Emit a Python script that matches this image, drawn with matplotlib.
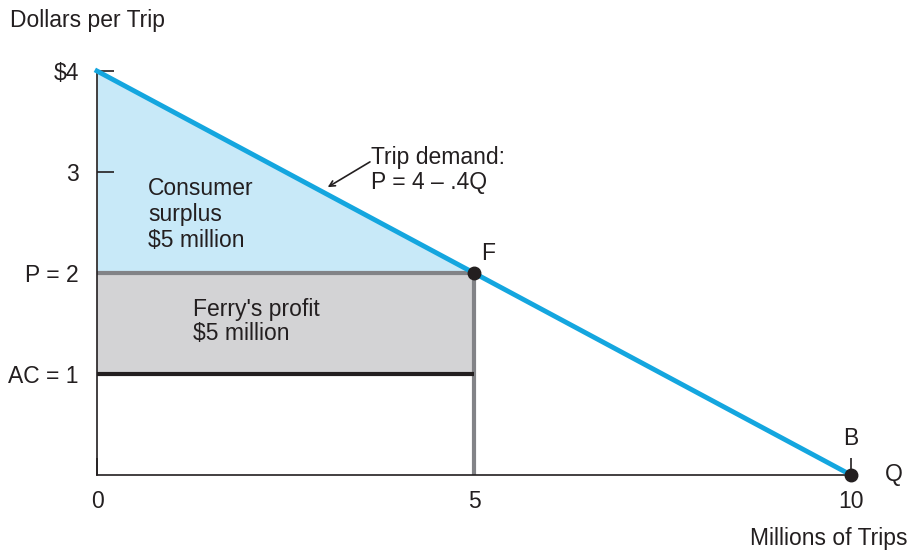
import matplotlib
matplotlib.use("Agg")
import matplotlib.pyplot as plt

plt.rcParams['font.family'] = ['Liberation Sans', 'DejaVu Sans']

# demand curve P = 4 - .4Q
demand_q = [0, 10]
demand_p = [4, 0]
price = 2
avg_cost = 1
q_ferry = 5
q_max = 10

yticks = [4, 3, 2, 1]
ytick_labels = ["$4", "3", "P = 2", "AC = 1"]
xticks = [0, 5, 10]
xtick_labels = ["0", "5", "10"]

blue = "#14a6df"
light_blue = "#c8e9f8"
gray_fill = "#d3d3d5"
gray_line = "#828387"
ink = "#231f20"

fig = plt.figure(figsize=(9.18, 5.53), dpi=100)
ax = fig.add_axes([97 / 918, 78 / 553, 754 / 918, 404 / 553])
ax.set_xlim(0, 10)
ax.set_ylim(0, 4)

# shaded areas
ax.fill_between([0, q_ferry], [4, price], [price, price], color=light_blue, lw=0, zorder=1)
ax.fill_between([0, q_ferry], [price, price], [avg_cost, avg_cost], color=gray_fill, lw=0, zorder=1)

ax.plot([0, q_ferry], [price, price], color=gray_line, lw=3, zorder=2, solid_capstyle='butt')
ax.plot([q_ferry, q_ferry], [0, price], color=gray_line, lw=3, zorder=2, solid_capstyle='butt')
ax.plot([0, q_ferry], [avg_cost, avg_cost], color=ink, lw=3, zorder=2, solid_capstyle='butt')

ax.plot(demand_q, demand_p, color=blue, lw=3.5, zorder=3, clip_on=False)
ax.plot([q_ferry, q_max], [price, 0], 'o', color=ink, ms=9, zorder=4, clip_on=False)

for s in ['top', 'right']:
    ax.spines[s].set_visible(False)
for s in ['left', 'bottom']:
    ax.spines[s].set_linewidth(1.2)
    ax.spines[s].set_color(ink)
    ax.spines[s].set_zorder(2.5)

ax.set_yticks(yticks)
ax.set_yticklabels(ytick_labels)
ax.set_xticks(xticks)
ax.set_xticklabels(xtick_labels)
fs = 16.5
ax.tick_params(direction='in', length=12, width=1.2, labelsize=fs, color=ink, labelcolor=ink)
ax.tick_params(axis='y', pad=13)
ax.tick_params(axis='x', pad=11)

fig.text(10 / 918, 1 - 20 / 553, "Dollars per Trip", fontsize=fs, va='center', color=ink)
fig.text(907 / 918, 1 - 538 / 553, "Millions of Trips", fontsize=fs, va='center', ha='right', color=ink)
ax.text(10.45, 0, "Q", fontsize=fs, va='center', ha='left', color=ink)
ax.text(q_ferry + 0.1, price + 0.08, "F", fontsize=fs, va='bottom', ha='left', color=ink)
ax.text(q_max, 0.25, "B", fontsize=fs, va='bottom', ha='center', color=ink)

ax.text(0.68, 2.58, "Consumer\nsurplus\n$5 million", fontsize=fs, va='center', ha='left',
        color=ink, linespacing=1.15)
ax.text(1.27, 1.52, "Ferry's profit\n$5 million", fontsize=fs, va='center', ha='left',
        color=ink, linespacing=1.05)
ax.text(3.63, 3.02, "Trip demand:\nP = 4 \u2013 .4Q", fontsize=fs, va='center', ha='left',
        color=ink, linespacing=1.12)
ax.annotate("", xy=(3.06, 2.85), xytext=(3.62, 3.1),
            arrowprops=dict(arrowstyle='->', color=ink, lw=1.2, shrinkA=0, shrinkB=0))

fig.savefig("out.png", dpi=100)
